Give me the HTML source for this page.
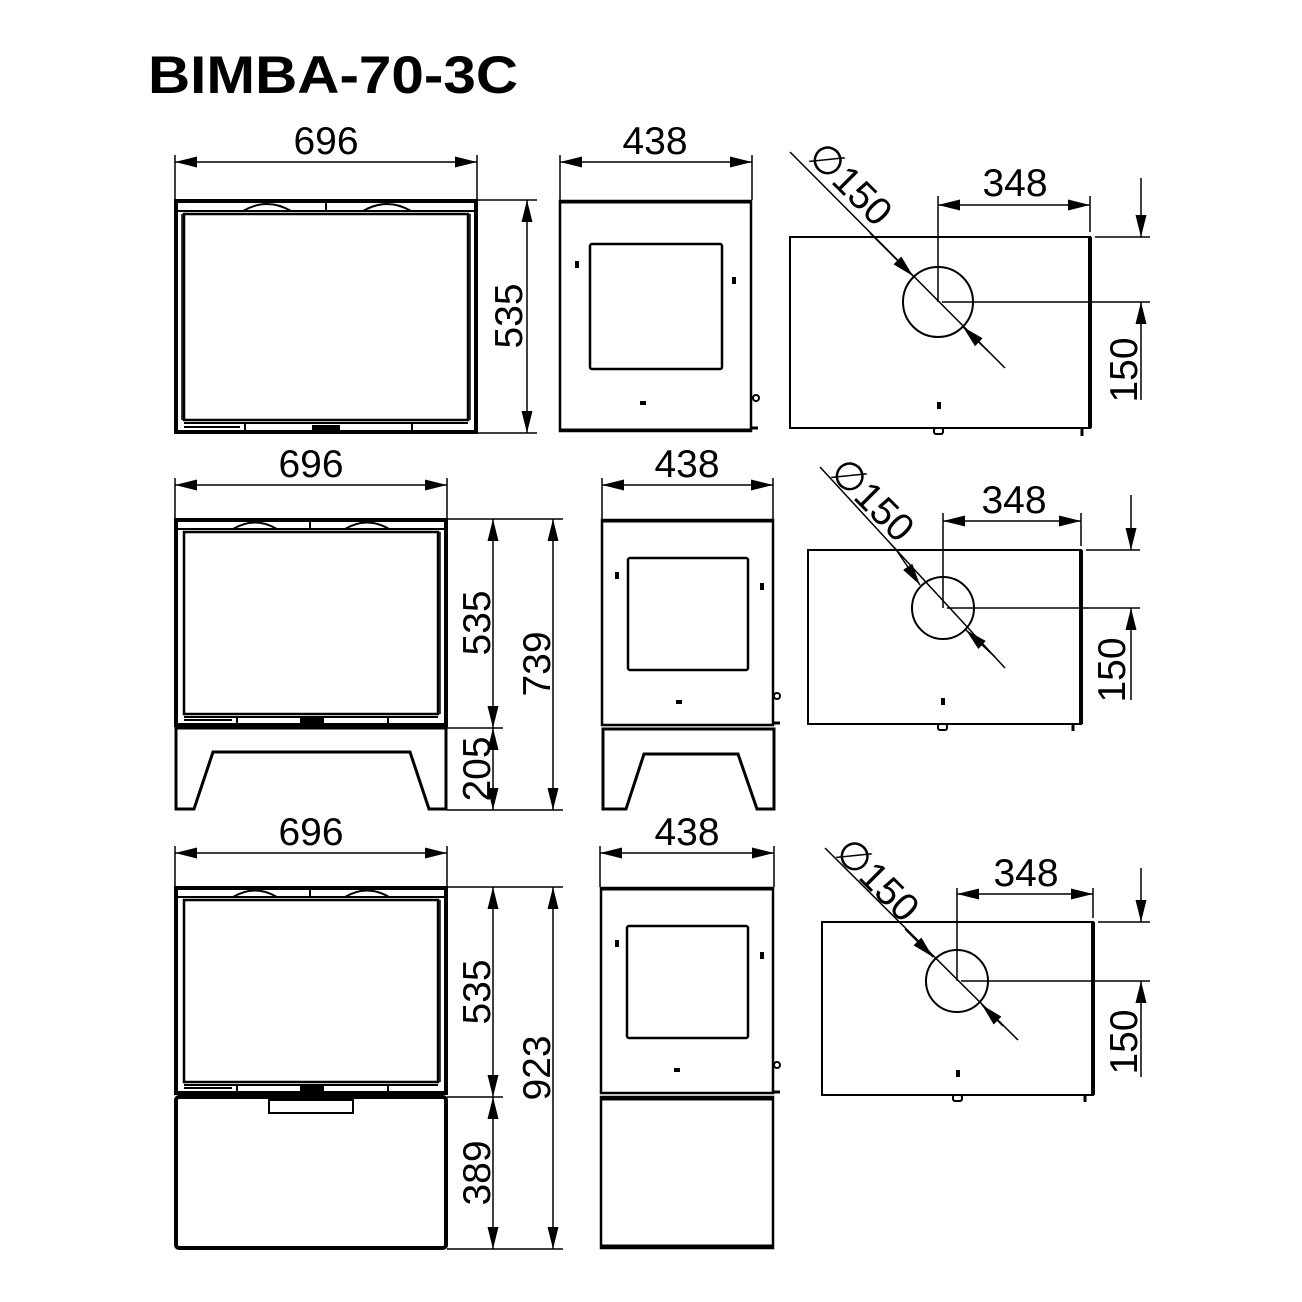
<!DOCTYPE html>
<html><head><meta charset="utf-8"><style>
html,body{margin:0;padding:0;background:#fff;}
svg{display:block;}
text{font-family:"Liberation Sans",Arial,sans-serif;fill:#000;}
</style></head><body>
<svg width="1302" height="1302" viewBox="0 0 1302 1302" xmlns="http://www.w3.org/2000/svg">
<defs>
<marker id="a" markerUnits="userSpaceOnUse" markerWidth="24" markerHeight="14" viewBox="-22 -7 24 14" refX="0" refY="0" orient="auto-start-reverse">
<path d="M0,0 L-22,-5.5 L-22,5.5 Z" fill="#000"/>
</marker>
</defs>
<rect width="1302" height="1302" fill="#fff"/>
<text x="148" y="93" font-size="53" font-weight="bold" textLength="370" lengthAdjust="spacingAndGlyphs">BIMBA-70-3C</text>

<g fill="none" stroke="#000">
<!-- ================= ROW 1 ================= -->
<line x1="175" y1="155" x2="175" y2="200" stroke-width="1.5"/>
<line x1="477" y1="155" x2="477" y2="200" stroke-width="1.5"/>
<line x1="175" y1="162" x2="477" y2="162" stroke-width="1.5" marker-start="url(#a)" marker-end="url(#a)"/>
<rect x="176" y="201" width="300" height="231" stroke-width="4"/>
<line x1="178" y1="211" x2="474" y2="211" stroke-width="2"/>
<line x1="326" y1="201" x2="326" y2="211" stroke-width="2"/>
<path d="M243,211 Q267,197 291,211 M363,211 Q387,197 411,211" stroke-width="2"/>
<rect x="184" y="214" width="284" height="206" stroke-width="2.5"/>
<line x1="182" y1="214" x2="182" y2="420" stroke-width="1.5"/>
<line x1="470" y1="214" x2="470" y2="420" stroke-width="1.5"/>
<path d="M184,423 H468 M184,427 H240 M245,423 V430 M412,423 V430" stroke-width="2"/>
<rect x="312" y="425" width="28" height="5" fill="#000" stroke="none"/>
<line x1="477" y1="200" x2="537" y2="200" stroke-width="1.5"/>
<line x1="477" y1="433" x2="537" y2="433" stroke-width="1.5"/>
<line x1="527" y1="200" x2="527" y2="433" stroke-width="1.5" marker-start="url(#a)" marker-end="url(#a)"/>
<!-- side -->
<line x1="560" y1="155" x2="560" y2="200" stroke-width="1.5"/>
<line x1="752" y1="155" x2="752" y2="200" stroke-width="1.5"/>
<line x1="560" y1="162" x2="752" y2="162" stroke-width="1.5" marker-start="url(#a)" marker-end="url(#a)"/>
<rect x="560" y="201" width="191" height="230" stroke-width="2.5"/>
<line x1="560" y1="202" x2="751" y2="202" stroke-width="3"/>
<line x1="560" y1="430" x2="751" y2="430" stroke-width="3"/>
<rect x="590" y="244" width="132" height="125" rx="2" stroke-width="2.5"/>
<circle cx="756" cy="398" r="3" stroke-width="2"/>
<line x1="751" y1="428" x2="758" y2="428" stroke-width="3"/>
<!-- top view -->
<rect x="790" y="237" width="300" height="191" stroke-width="2"/>
<line x1="1090" y1="237" x2="1090" y2="428" stroke-width="4"/>
<circle cx="938" cy="302" r="35" stroke-width="2"/>
<line x1="938" y1="196" x2="938" y2="302" stroke-width="1.5"/>
<line x1="1090" y1="196" x2="1090" y2="232" stroke-width="1.5"/>
<line x1="938" y1="205" x2="1090" y2="205" stroke-width="1.5" marker-start="url(#a)" marker-end="url(#a)"/>
<line x1="1095" y1="237" x2="1150" y2="237" stroke-width="1.5"/>
<line x1="942" y1="302" x2="1150" y2="302" stroke-width="1.5"/>
<line x1="1141" y1="178" x2="1141" y2="237" stroke-width="1.5" marker-end="url(#a)"/>
<line x1="1141" y1="400" x2="1141" y2="302" stroke-width="1.5" marker-end="url(#a)"/>
<line x1="790" y1="152" x2="1005" y2="368" stroke-width="1.5"/>
<line x1="870" y1="233" x2="913" y2="276" stroke-width="1.5" marker-end="url(#a)"/>
<line x1="990" y1="353" x2="963" y2="327" stroke-width="1.5" marker-end="url(#a)"/>
<rect x="937" y="402" width="4" height="7" fill="#000" stroke="none"/>
<rect x="934" y="428" width="9" height="6" rx="2" stroke-width="2"/>
<line x1="1082" y1="428" x2="1082" y2="436" stroke-width="3"/>

<!-- ================= ROW 2 ================= -->
<line x1="175" y1="478" x2="175" y2="519" stroke-width="1.5"/>
<line x1="447" y1="478" x2="447" y2="519" stroke-width="1.5"/>
<line x1="175" y1="485" x2="447" y2="485" stroke-width="1.5" marker-start="url(#a)" marker-end="url(#a)"/>
<rect x="176" y="520" width="270" height="205" stroke-width="4"/>
<line x1="178" y1="529" x2="444" y2="529" stroke-width="2"/>
<line x1="310" y1="520" x2="310" y2="529" stroke-width="2"/>
<path d="M233,529 Q255,516 277,529 M345,529 Q367,516 389,529" stroke-width="2"/>
<rect x="184" y="532" width="254" height="182" stroke-width="2.5"/>
<line x1="440" y1="532" x2="440" y2="714" stroke-width="1.5"/>
<path d="M184,717 H438 M184,720 H232 M237,717 V723 M388,717 V723" stroke-width="2"/>
<rect x="300" y="718" width="24" height="5" fill="#000" stroke="none"/>
<path d="M176,728 H446 V809 H429 L410,752 H213 L194,809 H176 Z" stroke-width="3"/>
<line x1="447" y1="519" x2="563" y2="519" stroke-width="1.5"/>
<line x1="447" y1="728" x2="503" y2="728" stroke-width="1.5"/>
<line x1="447" y1="810" x2="563" y2="810" stroke-width="1.5"/>
<line x1="493" y1="519" x2="493" y2="728" stroke-width="1.5" marker-start="url(#a)" marker-end="url(#a)"/>
<line x1="493" y1="728" x2="493" y2="810" stroke-width="1.5" marker-start="url(#a)" marker-end="url(#a)"/>
<line x1="553" y1="519" x2="553" y2="810" stroke-width="1.5" marker-start="url(#a)" marker-end="url(#a)"/>
<!-- side -->
<line x1="602" y1="478" x2="602" y2="519" stroke-width="1.5"/>
<line x1="773" y1="478" x2="773" y2="519" stroke-width="1.5"/>
<line x1="602" y1="485" x2="773" y2="485" stroke-width="1.5" marker-start="url(#a)" marker-end="url(#a)"/>
<rect x="602" y="520" width="171" height="205" stroke-width="2.5"/>
<line x1="602" y1="521" x2="773" y2="521" stroke-width="3"/>
<rect x="628" y="558" width="120" height="112" rx="2" stroke-width="2.5"/>
<path d="M603,729 H774 V809 H757 L738,754 H644 L626,809 H603 Z" stroke-width="3"/>
<circle cx="777" cy="696" r="3" stroke-width="2"/>
<line x1="773" y1="723" x2="780" y2="723" stroke-width="3"/>
<!-- top view -->
<rect x="808" y="550" width="273" height="174" stroke-width="2"/>
<line x1="1081" y1="550" x2="1081" y2="724" stroke-width="4"/>
<circle cx="943" cy="608" r="31" stroke-width="2"/>
<line x1="943" y1="513" x2="943" y2="608" stroke-width="1.5"/>
<line x1="1081" y1="513" x2="1081" y2="546" stroke-width="1.5"/>
<line x1="943" y1="521" x2="1081" y2="521" stroke-width="1.5" marker-start="url(#a)" marker-end="url(#a)"/>
<line x1="1086" y1="550" x2="1140" y2="550" stroke-width="1.5"/>
<line x1="947" y1="608" x2="1140" y2="608" stroke-width="1.5"/>
<line x1="1131" y1="495" x2="1131" y2="550" stroke-width="1.5" marker-end="url(#a)"/>
<line x1="1131" y1="700" x2="1131" y2="608" stroke-width="1.5" marker-end="url(#a)"/>
<line x1="820" y1="467" x2="1005" y2="668" stroke-width="1.5"/>
<line x1="895" y1="548" x2="920" y2="585" stroke-width="1.5" marker-end="url(#a)"/>
<line x1="995" y1="657" x2="966" y2="630" stroke-width="1.5" marker-end="url(#a)"/>
<rect x="941" y="698" width="4" height="7" fill="#000" stroke="none"/>
<rect x="938" y="724" width="9" height="6" rx="2" stroke-width="2"/>
<line x1="1073" y1="724" x2="1073" y2="731" stroke-width="3"/>

<!-- ================= ROW 3 ================= -->
<line x1="175" y1="846" x2="175" y2="887" stroke-width="1.5"/>
<line x1="447" y1="846" x2="447" y2="887" stroke-width="1.5"/>
<line x1="175" y1="853" x2="447" y2="853" stroke-width="1.5" marker-start="url(#a)" marker-end="url(#a)"/>
<rect x="176" y="888" width="270" height="205" stroke-width="4"/>
<line x1="178" y1="897" x2="444" y2="897" stroke-width="2"/>
<line x1="310" y1="888" x2="310" y2="897" stroke-width="2"/>
<path d="M233,897 Q255,884 277,897 M345,897 Q367,884 389,897" stroke-width="2"/>
<rect x="184" y="900" width="254" height="182" stroke-width="2.5"/>
<line x1="440" y1="900" x2="440" y2="1082" stroke-width="1.5"/>
<path d="M184,1085 H438 M184,1088 H232 M237,1085 V1091 M388,1085 V1091" stroke-width="2"/>
<rect x="300" y="1086" width="24" height="5" fill="#000" stroke="none"/>
<rect x="176" y="1097" width="270" height="151" rx="3" stroke-width="4"/>
<rect x="269" y="1100" width="84" height="13" stroke-width="2"/>
<line x1="447" y1="887" x2="563" y2="887" stroke-width="1.5"/>
<line x1="447" y1="1097" x2="503" y2="1097" stroke-width="1.5"/>
<line x1="447" y1="1249" x2="563" y2="1249" stroke-width="1.5"/>
<line x1="493" y1="887" x2="493" y2="1097" stroke-width="1.5" marker-start="url(#a)" marker-end="url(#a)"/>
<line x1="493" y1="1097" x2="493" y2="1249" stroke-width="1.5" marker-start="url(#a)" marker-end="url(#a)"/>
<line x1="553" y1="887" x2="553" y2="1249" stroke-width="1.5" marker-start="url(#a)" marker-end="url(#a)"/>
<!-- side -->
<line x1="600" y1="846" x2="600" y2="887" stroke-width="1.5"/>
<line x1="774" y1="846" x2="774" y2="887" stroke-width="1.5"/>
<line x1="600" y1="853" x2="774" y2="853" stroke-width="1.5" marker-start="url(#a)" marker-end="url(#a)"/>
<rect x="601" y="888" width="172" height="205" stroke-width="2.5"/>
<line x1="601" y1="889" x2="773" y2="889" stroke-width="3"/>
<rect x="627" y="926" width="121" height="112" rx="2" stroke-width="2.5"/>
<rect x="601" y="1097" width="172" height="151" stroke-width="2.5"/>
<line x1="601" y1="1099" x2="773" y2="1099" stroke-width="3"/>
<line x1="601" y1="1246" x2="773" y2="1246" stroke-width="3"/>
<circle cx="777" cy="1065" r="3" stroke-width="2"/>
<line x1="773" y1="1092" x2="780" y2="1092" stroke-width="3"/>
<!-- top view -->
<rect x="822" y="922" width="271" height="173" stroke-width="2"/>
<line x1="1093" y1="922" x2="1093" y2="1095" stroke-width="4"/>
<circle cx="957" cy="981" r="31" stroke-width="2"/>
<line x1="957" y1="888" x2="957" y2="981" stroke-width="1.5"/>
<line x1="1093" y1="888" x2="1093" y2="918" stroke-width="1.5"/>
<line x1="957" y1="894" x2="1093" y2="894" stroke-width="1.5" marker-start="url(#a)" marker-end="url(#a)"/>
<line x1="1098" y1="922" x2="1150" y2="922" stroke-width="1.5"/>
<line x1="961" y1="981" x2="1150" y2="981" stroke-width="1.5"/>
<line x1="1141" y1="868" x2="1141" y2="922" stroke-width="1.5" marker-end="url(#a)"/>
<line x1="1141" y1="1077" x2="1141" y2="981" stroke-width="1.5" marker-end="url(#a)"/>
<line x1="825" y1="848" x2="1018" y2="1040" stroke-width="1.5"/>
<line x1="905" y1="929" x2="933" y2="957" stroke-width="1.5" marker-end="url(#a)"/>
<line x1="1003" y1="1026" x2="982" y2="1005" stroke-width="1.5" marker-end="url(#a)"/>
<rect x="956" y="1070" width="4" height="7" fill="#000" stroke="none"/>
<rect x="953" y="1095" width="9" height="6" rx="2" stroke-width="2"/>
<line x1="1085" y1="1095" x2="1085" y2="1102" stroke-width="3"/>
</g>

<g fill="#000">
<rect x="575" y="261" width="4" height="7"/><rect x="732" y="277" width="4" height="7"/><rect x="640" y="401" width="6" height="4"/>
<rect x="615" y="572" width="4" height="7"/><rect x="760" y="583" width="4" height="7"/><rect x="676" y="700" width="6" height="4"/>
<rect x="615" y="940" width="4" height="7"/><rect x="760" y="952" width="4" height="7"/><rect x="674" y="1068" width="6" height="4"/>
</g>

<g font-size="39">
<text x="326" y="154" text-anchor="middle">696</text>
<text x="655" y="154" text-anchor="middle">438</text>
<text x="1015" y="196" text-anchor="middle">348</text>
<text transform="translate(522,316) rotate(-90)" text-anchor="middle">535</text>
<text transform="translate(1137,370) rotate(-90)" text-anchor="middle">150</text>
<text transform="translate(806,158) rotate(45)">∅150</text>

<text x="311" y="477" text-anchor="middle">696</text>
<text x="687" y="477" text-anchor="middle">438</text>
<text x="1014" y="513" text-anchor="middle">348</text>
<text transform="translate(490,623) rotate(-90)" text-anchor="middle">535</text>
<text transform="translate(490,769) rotate(-90)" text-anchor="middle">205</text>
<text transform="translate(550,664) rotate(-90)" text-anchor="middle">739</text>
<text transform="translate(1125,670) rotate(-90)" text-anchor="middle">150</text>
<text transform="translate(828,474) rotate(45)">∅150</text>

<text x="311" y="845" text-anchor="middle">696</text>
<text x="687" y="845" text-anchor="middle">438</text>
<text x="1026" y="886" text-anchor="middle">348</text>
<text transform="translate(490,992) rotate(-90)" text-anchor="middle">535</text>
<text transform="translate(490,1173) rotate(-90)" text-anchor="middle">389</text>
<text transform="translate(550,1068) rotate(-90)" text-anchor="middle">923</text>
<text transform="translate(1137,1042) rotate(-90)" text-anchor="middle">150</text>
<text transform="translate(833,854) rotate(45)">∅150</text>
</g>
</svg>
</body></html>
